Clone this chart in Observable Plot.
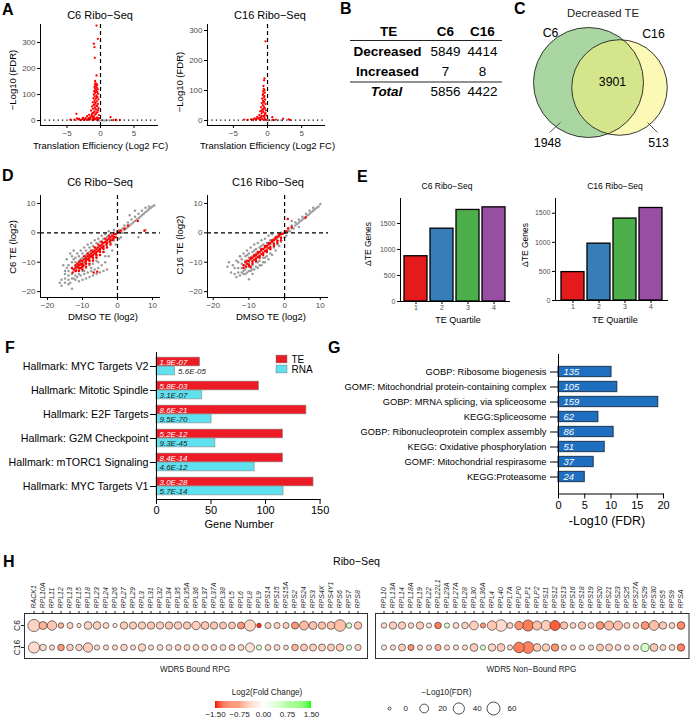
<!DOCTYPE html>
<html><head><meta charset="utf-8">
<script src="https://cdn.jsdelivr.net/npm/d3@7"></script>
<script src="https://cdn.jsdelivr.net/npm/@observablehq/plot@0.6"></script>
<style>
body{margin:0;background:#fff;}
#root{position:relative;width:690px;height:719px;overflow:hidden;font-family:"Liberation Sans",Arial,sans-serif;color:#000;background:#fff;}
.t{position:absolute;white-space:nowrap;line-height:1;}
</style></head><body><div id="root"></div>
<script>
// ---------------- DATA ----------------
// A: volcano plots [log2FC, -log10 FDR]
const volcC6Red = [[-0.6,365],[-0.4,314],[-1.0,295],[-0.9,282],[-0.85,241],[-0.6,173],[-0.8,152],
[-0.75,144],[-0.6,141],[-0.85,138],[-0.5,136],[-0.7,132],[-0.9,128],[-0.55,126],[-0.8,122],[-0.4,120],
[-0.65,117],[-0.95,113],[-0.5,110],[-0.8,106],[-0.35,103],[-1.0,100],[-0.6,97],[-0.85,93],[-0.45,90],[-1.05,86],[-0.7,84],[-0.3,81],
[-0.9,77],[-0.55,74],[-1.15,70],[-0.75,67],[-0.4,64],[-1.0,61],[-0.6,57],[-1.25,54],[-0.85,51],[-0.3,48],[-1.1,45],[-0.65,42],
[-1.4,38],[-0.9,35],[-0.45,32],[-1.2,28],[-0.7,25],[-1.7,22],[-0.25,21],[-2.0,17],[-1.4,15],[-1.0,13],[-0.5,12],[-2.6,10],[-1.8,9],[-0.2,9],
[-3.2,6],[-2.3,5],[-1.5,5],[-0.8,5],[-3.9,3],[-2.9,2],[-2.0,2],[-1.2,2],[-0.5,2],[-4.5,3],[-3.5,8],[-3.6,26],[1.5,13],[2.3,3],[2.9,2],[1.9,2],
[-0.7,110],[-0.55,90],[-0.9,60],[-0.75,45],[-0.6,30],[-1.3,18],[-0.9,20],[-0.35,40],[-1.1,8],[-0.6,7],
[-2.7,7],[-2.2,9],[-1.6,11],[-1.2,14],[-3.3,4],[-2.5,3],[-1.8,5],[-1.0,4],[-0.4,5],[-0.9,10],[-1.6,7],[-1.3,24],[-1.0,30],[-0.8,70],[-0.5,55]];
const volcC6Gray = [[0.2,1],[0.5,0.6],[0.9,1],[1.3,0.5],[0.1,0.3],[-0.2,0.5],[0.7,0.2],[1.7,0.8],[2.4,0.4],[-0.4,1]];
const volcC16Red = [[-0.3,264],[-0.45,140],[-0.5,134],[-0.6,115],
[-0.55,105],[-0.45,101],[-0.65,97],[-0.4,93],[-0.6,89],[-0.7,85],[-0.45,81],[-0.55,77],[-0.8,73],[-0.35,70],[-0.65,66],[-0.5,62],
[-0.85,58],[-0.3,55],[-0.7,51],[-0.55,47],[-0.95,44],[-0.4,41],[-0.75,37],[-0.25,34],[-1.05,31],[-0.6,28],[-0.85,24],[-0.4,21],
[-1.2,18],[-0.15,16],[-0.7,14],[-1.5,12],[-1.0,10],[-0.45,9],[-1.9,7],[-1.3,6],[-0.8,5],[-0.3,4],[-2.4,4],[-1.7,3],[-1.1,2],[-0.6,2],
[-2.9,2],[-2.1,1.5],[-3.4,3],[-0.1,1.5],[0.7,11],[2.3,6],[3.1,4],[1.2,3],[0.8,2],[3.3,2],
[-0.6,60],[-0.5,40],[-0.9,30],[-0.3,25],[-1.2,9],[-0.5,15],[-1.6,6],[-2.1,4],[-0.9,15],[-0.7,35]];
const volcC16Gray = [[0.3,1],[0.6,0.5],[1.0,0.8],[1.5,0.4],[0.1,0.2],[2.0,0.6]];

// B: table
const tableCols = ["TE","C6","C16"];
const tableRows = ["Decreased","Increased","Total"];
const tableC6 = [5849, 7, 5856];
const tableC16 = [4414, 8, 4422];

// C: Venn
const vennSets = ["C6","C16"];
const vennTotals = [5849, 4414];
const vennOnly = [1948, 513];
const vennBoth = 3901;

// D: TE scatter [DMSO TE, treated TE]
const dC6Gray = [[-16,-16],[-16,-18],[-15,-13],[-15,-15.5],[-15,-17],[-14,-11],[-14,-13],[-14,-14.5],[-14,-16],[-13.5,-7],[-13,-19],
[-13,-10],[-13,-12],[-13,-14],[-13,-15.5],[-12,-8.5],[-12,-10],[-12,-11.5],[-12,-13],[-12,-14.5],[-11,-8],[-11,-9.5],[-11,-11],[-11,-12.5],[-11,-14],[-11,-16.5],
[-10,-7],[-10,-8.5],[-10,-10],[-10,-11.5],[-10,-13],[-10,-16],[-9,-6],[-9,-7.5],[-9,-9],[-9,-10.5],[-9,-12],[-9,-15.5],
[-8,-5],[-8,-6.5],[-8,-8],[-8,-9.5],[-8,-11],[-8,-15],[-7,-4.5],[-7,-6],[-7,-7.5],[-7,-9],[-7,-10.5],[-7,-14.5],
[-6,-3.5],[-6,-5],[-6,-6.5],[-6,-8],[-6,-9.5],[-6,-14],[-5,-3],[-5,-4.5],[-5,-6],[-5,-7.5],[-5,-13.5],[-4,-2],[-4,-3.5],[-4,-5],[-4,-6.5],[-4,-13],
[-3,-1.5],[-3,-3],[-3,-4.5],[-3,-12.5],[-2,-0.5],[-2,-2],[-2,-3.5],[-1,0],[-1,-1.5],[-1,-2.5],
[0,0.5],[0.5,1],[1,0],[1.5,1.5],[2,2.5],[2,1],[3,2],[3,3.5],[4,3],[4,4.5],[5,4],[5,5.5],[6,5],[6,6.5],[7,6],[7,7.5],[8,7],[8,8.5],[9,8],[9,9],[10,9],[10.5,9.3],
[5,7.5],[3.5,6],[6,-1.5],[8,1],[1,-1.5],[-1,1],[-12.5,-9],[-10.5,-9],[-8.5,-7],[-6.5,-5],[-4.5,-3],[-9.5,-13],[-7.5,-12],[-5.5,-10],[-3.5,-8],[-12,-16],[-14.5,-12],
[-15.5,-11],[-14.5,-9],[-13,-8],[-12.5,-6],[-11.5,-7],[-10.5,-6],[-9.5,-5],[-8.5,-4],[-7.5,-3.5],[-6.5,-2.5],[-5.5,-2],[-4.5,-1],[-3.5,-0.5],[-2.5,0.5],
[-13.5,-17],[-12.5,-15.5],[-11.5,-15],[-10.5,-14.5],[-9.5,-14],[-8.5,-13.5],[-7.5,-13],[-6.5,-12.5],[-5.5,-12],[-4.5,-11],[-3.5,-10],[-2.5,-8],[-1.5,-6],[-0.5,-4],
[0.5,-2],[1.5,0],[2.5,1.5],[3.5,2.5],[4.5,3.5],[5.5,4.5],[6.5,5.5],[7.5,6.5],[8.5,7.5],[9.5,8.5],[-14,-17.5],[-15,-14],[-16.5,-17]];
const dC6Red = [[-12.5,-12.5],[-12,-11],[-12,-12],[-11.5,-11.5],[-11,-10],[-11,-11],[-11,-12],[-10.5,-10.5],[-10,-9.5],[-10,-10.5],[-10,-11.5],
[-9.5,-9],[-9,-8.5],[-9,-9.5],[-9,-10.5],[-8.5,-8],[-8,-7.5],[-8,-8.5],[-8,-9.5],[-7.5,-7],[-7,-6.5],[-7,-7.5],[-7,-8.5],[-6.5,-6],
[-6,-5.5],[-6,-6.5],[-6,-7.5],[-5.5,-5],[-5,-4.5],[-5,-5.5],[-5,-6.5],[-4.5,-4],[-4,-3.5],[-4,-4.5],[-4,-5.5],[-3.5,-3],[-3,-2.5],[-3,-3.5],
[-2.5,-2],[-2,-1.5],[-2,-2.5],[-1.5,-1],[-1,-0.5],[-1,-1.5],[-0.5,-0.5],[0,0],[0.5,0.3],[1,0.8],[2,1.5],[3,2.5],[5.8,4],[7.7,0.7],
[-12.8,-13.5],[-6.8,-13.5],[-5.8,-13.2],[-13,-12],[-11.8,-12.8],[-9.7,-11],[-10.5,-12],[-8.5,-9],[-7.5,-8],[-6.5,-7],[-5.5,-6],[-4.5,-5],
[-12,-13],[-11.5,-10.5],[-11,-13],[-10.5,-9.5],[-10,-12.5],[-9.5,-8],[-9,-11.5],[-8.5,-7],[-8,-10.5],[-7.5,-6],[-7,-9.5],[-6.5,-5],[-6,-8.5],
[-5.5,-4],[-5,-7.5],[-4.5,-3],[-4,-6.5],[-3.5,-2],[-3,-5],[-2.5,-1],[-2,-4],[-1.5,-2.5],[-0.5,-1.5],[-11.2,-11.8],[-10.2,-11],[-9.2,-10],
[-8.2,-9],[-7.2,-8],[-6.2,-7],[-5.2,-6],[-4.2,-5],[-3.2,-4],[-2.2,-3],[-1.2,-2]];
const dC16Gray = [[-15.6,-10],[-15,-13.5],[-14,-12],[-14,-14],[-13,-10],[-13,-12],[-13,-13.5],[-12,-9],[-12,-10.5],[-12,-12],[-12,-13.5],
[-11,-8],[-11,-9.5],[-11,-11],[-11,-12.5],[-11,-14],[-10,-7],[-10,-8.5],[-10,-10],[-10,-11.5],[-10,-13],[-10,-15.8],
[-9,-6.5],[-9,-8],[-9,-9.5],[-9,-11],[-9,-12.5],[-8,-5.5],[-8,-7],[-8,-8.5],[-8,-10],[-8,-11.5],[-7,-5],[-7,-6.5],[-7,-8],[-7,-9.5],[-7,-11],
[-6,-4],[-6,-5.5],[-6,-7],[-6,-8.5],[-5,-3.5],[-5,-5],[-5,-6.5],[-5,-8],[-4,-2.5],[-4,-4],[-4,-5.5],[-4,-7],[-3,-2],[-3,-3.5],[-3,-5],
[-2,-1],[-2,-2.5],[-2,-4],[-1,0],[-1,-1.5],[-1,-3],[0,0.5],[0,-1.5],[1,0.5],[1,1.5],[2,1.5],[2,2.5],[3,2.5],[3,3.5],[4,3.5],[4,4.5],
[5,4.5],[5,5.5],[6,5.5],[6,6.5],[7,6.5],[7,7.5],[8,7.5],[8,8.5],[9,8.5],[10,9.8],[-16,-11.5],[-13.5,-15],[-9,-14],[-6,-10],[2,4],[4,2],
[-12.5,-8],[-10.5,-7.5],[-8.5,-6],[-6.5,-4.5],[-11.5,-13],[-9.5,-12],[-7.5,-10],[-5.5,-8.5],
[-14.5,-11],[-13.5,-9.5],[-12.5,-8],[-11.5,-7],[-10.5,-6],[-9.5,-5],[-8.5,-4],[-7.5,-3.5],[-6.5,-2.5],[-5.5,-2],[-4.5,-1],[-3.5,-0.5],
[-12.5,-14.5],[-11.5,-14],[-10.5,-13.5],[-9.5,-13],[-8.5,-12.5],[-7.5,-12],[-6.5,-11],[-5.5,-10],[-4.5,-9],[-3.5,-7.5],[-2.5,-6],[-1.5,-4.5],
[0.5,-1],[1.5,0.5],[2.5,1.5],[3.5,3],[4.5,4],[5.5,5],[6.5,6],[7.5,7],[8.5,8],[9.5,9]];
const dC16Red = [[-11,-10],[-10.5,-10.5],[-10,-9.5],[-10,-10.8],[-9.5,-9],[-9,-8.5],[-9,-9.8],[-8.5,-8],[-8,-7.5],[-8,-8.8],[-7.5,-7],
[-7,-6.5],[-7,-7.8],[-6.5,-6],[-6,-5.5],[-6,-6.8],[-5.5,-5],[-5,-4.5],[-5,-5.8],[-4.5,-4],[-4,-3.5],[-4,-4.8],[-3.5,-3],[-3,-2.5],[-3,-3.8],
[-2.5,-2],[-2,-1.5],[-2,-2.8],[-1.5,-1],[-1,-0.5],[-1,-1.8],[-0.5,-0.3],[0,0],[0.5,0.5],[1,1.5],[2,2],[0.9,4.7],[5.9,5.2],[-9.5,-11.5],[-11.5,-11],
[-8.5,-9.2],[-7.5,-8.2],[-6.5,-7.2],[-5.5,-6.2],[-4.5,-5.2],
[-10.5,-9.5],[-10,-11.2],[-9.5,-8.5],[-9,-10.5],[-8.5,-7.5],[-8,-9.5],[-7.5,-6.5],[-7,-8.5],[-6.5,-5.5],[-6,-7.5],[-5.5,-4.5],[-5,-6.5],
[-4.5,-3.5],[-4,-5.5],[-3.5,-2.5],[-3,-4.5],[-2.5,-1.5],[-2,-3.5],[-1.5,-0.5],[-1,-2.5],[-11.5,-12],[-10.8,-11.5]];

// E: ΔTE genes per quartile
const eQuartiles = [1,2,3,4];
const eC6 = [870, 1400, 1760, 1810];
const eC16 = [488, 977, 1408, 1590];
const eColors = ["#e41a1c","#377eb8","#4daf4a","#984ea3"];

// F: Hallmark gene numbers
const fCats = ["Hallmark: MYC Targets V2","Hallmark: Mitotic Spindle","Hallmark: E2F Targets","Hallmark: G2M Checkpoint","Hallmark: mTORC1 Signaling","Hallmark: MYC Targets V1"];
const fTE = [40, 94, 137.5, 116, 116, 144];
const fRNA = [17, 42, 50.5, 54, 90, 116.5];
const fTElab = ["1.9E-07","5.8E-03","8.6E-21","5.2E-12","8.4E-14","3.0E-28"];
const fRNAlab = ["5.6E-05","3.1E-07","9.5E-70","9.3E-45","4.6E-12","5.7E-14"];
const fTypes = ["TE","RNA"];

// G: enrichment
const gCats = ["GOBP: Ribosome biogenesis","GOMF: Mitochondrial protein-containing complex","GOBP: MRNA splicing, via spliceosome","KEGG:Spliceosome","GOBP: Ribonucleoprotein complex assembly","KEGG: Oxidative phosphorylation","GOMF: Mitochondrial respirasome","KEGG:Proteasome"];
const gFDR = [10.1, 11.2, 19.0, 7.6, 10.5, 8.8, 6.7, 5.0];
const gCount = [135, 105, 159, 62, 86, 51, 37, 24];

// H: ribosomal protein genes
const hRows = ["C6","C16"];
const genesBound = ["RACK1","RPL10A","RPL11","RPL12","RPL13","RPL15","RPL18","RPL23","RPL24","RPL26","RPL27","RPL29","RPL3","RPL31","RPL32","RPL34","RPL35","RPL35A","RPL36","RPL37","RPL37A","RPL38","RPL5","RPL6","RPL8","RPL9","RPS14","RPS15","RPS15A","RPS2","RPS24","RPS3","RPS4X","RPS4Y1","RPS6","RPS7","RPS8"];
const boundC6FC  = [-0.35,-0.6,-0.45,-0.6,-0.35,-0.25,-0.35,-0.4,-0.3,-0.2,-0.4,-0.4,-0.4,-0.45,-0.4,-0.45,-0.4,-0.45,-0.4,-0.45,-0.45,-0.45,-0.45,-0.8,-0.35,-1.4,-0.35,-0.35,-0.4,-0.8,-0.55,-0.5,-0.5,-0.5,-0.5,0.4,-0.45];
const boundC6FDR = [50,15,25,4,6,1,14,14,5,1,12,11,12,12,12,12,13,12,18,14,12,10,10,10,40,1.5,6,6,6,10,22,15,12,14,45,4,12];
const boundC16FC  = [-0.3,-0.3,-0.3,-0.8,-0.4,-0.35,-0.4,-0.3,-0.3,-0.3,-0.35,-0.3,-0.35,-0.3,-0.3,-0.3,-0.35,-0.3,-0.3,-0.3,-0.3,-0.3,-0.35,-0.3,-0.25,0.35,-0.3,-0.3,-0.3,-0.6,-0.45,-0.4,-0.4,-0.4,-0.4,0.35,-0.35];
const boundC16FDR = [40,8,3,8,8,8,25,3,3,3,8,3,12,3,5,5,5,5,5,5,5,5,5,5,22,3,5,5,2,8,10,10,10,10,12,3,6];
const genesNonBound = ["RPL10","RPL13A","RPL14","RPL18A","RPL19","RPL22","RPL22L1","RPL23A","RPL27A","RPL28","RPL30","RPL36A","RPL4","RPL40","RPL7A","RPLP0","RPLP1","RPLP2","RPS11","RPS12","RPS13","RPS16","RPS18","RPS19","RPS20","RPS21","RPS23","RPS25","RPS27A","RPS29","RPS30","RPS5","RPS9","RPSA"];
const nonC6FC  = [-0.3,-0.4,-0.4,-0.35,-0.4,-0.25,-1.0,0.35,-0.3,-0.35,-0.4,-0.8,-0.45,-0.3,-0.35,-0.85,-1.0,-0.5,-0.4,-1.2,-0.5,-0.35,-0.45,-0.3,-0.8,-0.55,-0.5,-0.35,-0.35,-0.8,-0.5,-0.45,-0.35,-0.9];
const nonC6FDR = [4,12,12,4,12,3,8,3,5,8,20,3,25,45,5,18,40,22,30,30,12,5,12,5,14,22,22,5,5,14,28,12,5,14];
const nonC16FC  = [-0.2,-0.3,-0.4,-0.85,-0.3,-0.3,-0.6,-0.3,-0.3,-0.3,-0.4,0.35,-0.35,-0.4,-0.3,-1.0,-0.95,-0.45,-0.4,-0.85,-0.3,-0.3,-0.25,-0.3,-0.45,-0.4,-0.3,-0.3,-0.3,0.45,-0.45,-0.3,-0.3,-0.95];
const nonC16FDR = [3,3,10,6,3,3,6,3,3,3,14,3,12,14,3,35,45,14,12,12,3,3,3,3,10,10,5,3,3,16,14,5,5,12];
const sizeLegend = [0,20,40,60];
const fcLegendTicks = [-1.5,-0.75,0,0.75,1.5];

// ---------------- HELPERS ----------------
const root = document.getElementById("root");
const FONT = "Liberation Sans, Arial, sans-serif";
const AX = "#4d4d4d";
function put(el, left, top){ el.style.position="absolute"; el.style.left=left+"px"; el.style.top=top+"px"; root.appendChild(el); }
function txt(s, x, y, o={}){
  const {size=10, weight="normal", style="normal", rotate=0, anchor="middle", color="#000"} = o;
  const d=document.createElement("div"); d.className="t"; d.textContent=s;
  d.style.fontSize=size+"px"; d.style.fontWeight=weight; d.style.fontStyle=style; d.style.color=color;
  d.style.left=x+"px"; d.style.top=y+"px";
  const tx = anchor==="middle"?"-50%":anchor==="end"?"-100%":"0";
  d.style.transform=`translate(${tx},-50%) rotate(${rotate}deg)`;
  root.appendChild(d);
}
function plotAt(fl, ft, fw, fh, m, opts){
  const [mt,mr,mb,ml] = m;
  const svg = Plot.plot({...opts, width: ml+fw+mr, height: mt+fh+mb, marginTop:mt, marginRight:mr, marginBottom:mb, marginLeft:ml,
    style:{fontFamily:FONT, fontSize:"9px", background:"transparent", overflow:"visible"}});
  put(svg, fl-ml, ft-mt);
  return svg;
}
const pairX = d=>d[0], pairY = d=>d[1];
const plain = d=>String(d).replace("-","−");

// ---------------- A: volcano ----------------
function volcano(red, gray, fl, fw, xdom, ydom, yticks){
  plotAt(fl, 24, fw, 101, [4,4,16,30], {
    x:{domain:xdom, axis:null}, y:{domain:ydom, axis:null},
    marks:[
      Plot.dot(gray,{x:pairX,y:pairY,r:1.1,fill:"#9a9a9a"}),
      Plot.dot(red,{x:pairX,y:pairY,r:1.15,fill:"#ff0000"}),
      Plot.ruleY([1.3],{stroke:"#000",strokeDasharray:"1.2,3.2",strokeWidth:1.3}),
      Plot.ruleX([0],{stroke:"#000",strokeDasharray:"4,3",strokeWidth:1.2}),
      Plot.ruleX([xdom[0]],{stroke:"#000"}), Plot.ruleY([ydom[0]],{stroke:"#000"}),
      Plot.axisX({ticks:[-5,0,5], tickFormat:plain, tickSize:3, tickPadding:2, fontSize:8, color:AX, stroke:"#000", label:null}),
      Plot.axisY({ticks:yticks, tickFormat:plain, tickSize:3, tickPadding:2, fontSize:8, color:AX, stroke:"#000", label:null})
    ]});
}
volcano(volcC6Red, volcC6Gray, 40, 118, [-8.96,8.66], [-19,369], [0,100,200,300]);
volcano(volcC16Red, volcC16Gray, 207, 118, [-8.8,8.5], [-16.7,320], [0,100,200,300]);

// ---------------- B: table ----------------
plotAt(350, 19.6, 152, 82.8, [0,0,0,0], {
  x:{type:"point", domain:tableCols, padding:1.05, align:0.744, axis:null},
  y:{type:"point", domain:["TE", ...tableRows], padding:0.5, axis:null},
  marks:[
    Plot.ruleY(["TE"],{dy:9, stroke:"#222", strokeWidth:1}),
    Plot.ruleY(["Increased"],{dy:10.5, stroke:"#222", strokeWidth:1}),
    Plot.text(["TE"],{x:d=>d, y:()=>"TE", text:d=>d, dx:-20, fontWeight:"bold", fontSize:13.5}),
    Plot.text(["C6","C16"],{x:d=>d, y:()=>"TE", text:d=>d, fontWeight:"bold", fontSize:13.5}),
    Plot.text(tableRows.slice(0,2),{x:()=>"TE", y:d=>d, text:d=>d, dx:-21, fontWeight:"bold", fontSize:13.5}),
    Plot.text(tableRows.slice(2),{x:()=>"TE", y:d=>d, text:d=>d, dx:-22, fontWeight:"bold", fontStyle:"italic", fontSize:13.5}),
    Plot.text(tableRows,{x:()=>"C6", y:d=>d, text:(d,i)=>String(tableC6[i]), fontSize:13.5}),
    Plot.text(tableRows,{x:()=>"C16", y:d=>d, text:(d,i)=>String(tableC16[i]), fontSize:13.5})
  ]});

// ---------------- C: Venn ----------------
const vennCircles = vennSets.map((s,i)=>({set:s, total:vennTotals[i], cx:[0,31][i], cy:[0,-5][i]}));
const vennLabels = [
  {t:vennSets[0], x:-38, y:49},{t:vennSets[1], x:65, y:48},
  {t:String(vennBoth), x:24, y:0},{t:String(vennOnly[0]), x:-41, y:-61},{t:String(vennOnly[1]), x:70, y:-61}];
const vennLeaders = [{x1:-28,y1:-40,x2:-39,y2:-50},{x1:59,y1:-40,x2:69,y2:-50}];
plotAt(528, 18, 162, 132, [0,0,0,0], {
  x:{domain:[-60,102], axis:null}, y:{domain:[-68,64], axis:null},
  r:{type:"sqrt", domain:[0,5849], range:[0,55]},
  marks:[
    Plot.dot(vennCircles.slice(0,1),{x:"cx",y:"cy",r:"total",fill:"#a9d6a0",stroke:null}),
    Plot.dot(vennCircles.slice(1),{x:"cx",y:"cy",r:"total",fill:"#faf27a",fillOpacity:0.55,stroke:null}),
    Plot.dot(vennCircles,{x:"cx",y:"cy",r:"total",fill:"none",stroke:"#222",strokeWidth:0.9}),
    Plot.link(vennLeaders,{x1:"x1",y1:"y1",x2:"x2",y2:"y2",stroke:"#333",strokeWidth:0.8}),
    Plot.text(vennLabels,{x:"x",y:"y",text:"t",fontSize:12.3})
  ]});

// ---------------- D: scatter ----------------
function scatterD(gray, red, fl, fw, xdom){
  plotAt(fl, 195, fw, 102, [4,4,16,30], {
    x:{domain:xdom, axis:null}, y:{domain:[-22,12.7], axis:null},
    marks:[
      Plot.dot(gray,{x:pairX,y:pairY,r:1.25,fill:"#9a9a9a"}),
      Plot.dot(red,{x:pairX,y:pairY,r:1.25,fill:"#ff0000"}),
      Plot.ruleX([0],{stroke:"#000",strokeDasharray:"4,3",strokeWidth:1.2}),
      Plot.ruleY([0],{stroke:"#000",strokeDasharray:"4,3",strokeWidth:1.2}),
      Plot.ruleX([xdom[0]],{stroke:"#000"}), Plot.ruleY([-22],{stroke:"#000"}),
      Plot.axisX({ticks:[-20,-10,0,10], tickSize:3, tickPadding:2, fontSize:8, color:AX, stroke:"#000", label:null}),
      Plot.axisY({ticks:[-20,-10,0,10], tickSize:3, tickPadding:2, fontSize:8, color:AX, stroke:"#000", label:null})
    ]});
}
scatterD(dC6Gray, dC6Red, 40, 120, [-22,12.3]);
scatterD(dC16Gray, dC16Red, 207, 121, [-21.6,12.3]);

// ---------------- E: bars ----------------
function barsE(vals, fl, fw, fb, yTop, po){
  const data = eQuartiles.map((q,i)=>({q, v:vals[i]}));
  plotAt(fl, 198, fw, fb-198, [4,4,14,26], {
    x:{type:"band", domain:eQuartiles, paddingInner:0.1, paddingOuter:po, axis:null},
    y:{domain:[0,yTop], axis:null},
    color:{type:"ordinal", domain:eQuartiles, range:eColors},
    marks:[
      Plot.barY(data,{x:"q", y:"v", fill:"q", stroke:"#000", strokeWidth:1.3}),
      Plot.ruleY([0],{stroke:"#000"}), Plot.frame({anchor:"left", stroke:"#000"}),
      Plot.axisX({tickSize:3, tickPadding:1, fontSize:7, color:AX, stroke:"#000", label:null}),
      Plot.axisY({ticks:[0,500,1000,1500], tickFormat:d=>String(d), tickSize:3, tickPadding:2, fontSize:7, color:AX, stroke:"#000", label:null})
    ]});
}
barsE(eC6, 400, 110, 301, 1980, 0.165);
barsE(eC16, 555, 113, 300, 1753, 0.2);

// ---------------- F: grouped horizontal bars ----------------
const TE_RED = "#ed1c24", RNA_CYAN = "#5fe0ee";
const fRows = fCats.map((c,i)=>({cat:c, te:fTE[i], rna:fRNA[i], tel:fTElab[i], rnal:fRNAlab[i]}));
plotAt(155.7, 352, 163.6, 147, [4,10,30,152], {
  x:{domain:[0,150], axis:null},
  y:{type:"band", domain:fCats, paddingInner:0, paddingOuter:0.037, axis:null},
  marks:[
    Plot.barX(fRows,{y:"cat", x:"te", fill:TE_RED, stroke:"#8a8a8a", strokeWidth:0.6, insetTop:3.1, insetBottom:12.1}),
    Plot.barX(fRows,{y:"cat", x:"rna", fill:RNA_CYAN, stroke:"#8a8a8a", strokeWidth:0.6, insetTop:12.1, insetBottom:3.1}),
    Plot.text(fRows,{y:"cat", x:0, text:"tel", dx:3, dy:-4.4, textAnchor:"start", fill:"#fff", fontStyle:"italic", fontSize:8}),
    Plot.text(fRows,{y:"cat", x:d=>d.rna<25?d.rna:0, text:"rnal", dx:3, dy:4.6, textAnchor:"start", fill:"#222", fontStyle:"italic", fontSize:8}),
    Plot.frame({anchor:"left", stroke:"#000"}), Plot.frame({anchor:"bottom", stroke:"#000"}),
    Plot.axisX({ticks:[0,50,100,150], tickSize:5, tickPadding:2, fontSize:11, color:"#000", label:null}),
    Plot.axisY({tickSize:6, tickPadding:2, fontSize:10.7, color:"#000", label:null})
  ]});
// F legend
plotAt(276, 352.5, 11, 21, [0,30,0,0], {
  x:{domain:[0,1], axis:null}, y:{type:"band", domain:fTypes, padding:0, axis:null},
  color:{type:"ordinal", domain:fTypes, range:[TE_RED, RNA_CYAN]},
  marks:[
    Plot.barX(fTypes,{x1:0, x2:1, y:d=>d, fill:d=>d, stroke:"#777", strokeWidth:0.5, insetTop:1.1, insetBottom:1.1}),
    Plot.text(fTypes,{x:1, y:d=>d, text:d=>d, dx:4, textAnchor:"start", fontSize:10})
  ]});

// ---------------- G: enrichment bars ----------------
const gRows = gCats.map((c,i)=>({cat:c, v:gFDR[i], n:String(gCount[i])}));
plotAt(558, 353.5, 105, 139.5, [4,10,30,220], {
  x:{domain:[0,20], axis:null},
  y:{type:"band", domain:gCats, paddingInner:0, paddingOuter:0.44, axis:null},
  marks:[
    Plot.barX(gRows,{y:"cat", x:"v", fill:"#1f6fc0", stroke:"#1d3550", strokeWidth:1, insetTop:2.35, insetBottom:2.35}),
    Plot.text(gRows,{y:"cat", x:0, text:"n", dx:5, textAnchor:"start", fill:"#fff", fontStyle:"italic", fontSize:9.5}),
    Plot.frame({anchor:"left", stroke:"#000"}), Plot.frame({anchor:"bottom", stroke:"#000"}),
    Plot.axisX({ticks:[0,5,10,15,20], tickSize:5, tickPadding:2, fontSize:11, color:"#000", label:null}),
    Plot.axisY({tickSize:8, tickPadding:4, fontSize:9.3, color:"#000", label:null})
  ]});

// ---------------- H: dot matrix ----------------
const hColor = {type:"linear", domain:[-1.5,0,1.5], range:["#ff0000","#ffffff","#00ff00"], interpolate:"lab"};
const hR = {type:"sqrt", domain:[0,60], range:[1.5,6.5]};
function hPlot(genes, c6fc, c6fdr, c16fc, c16fdr, fl, fw, po, showY){
  const data = [];
  genes.forEach((g,i)=>{ data.push({gene:g,row:"C6",fc:c6fc[i],fdr:c6fdr[i]}); data.push({gene:g,row:"C16",fc:c16fc[i],fdr:c16fdr[i]}); });
  plotAt(fl, 613, fw, 45, [40,2,4,22], {
    x:{type:"band", domain:genes, paddingInner:0, paddingOuter:po, axis:null},
    y:{type:"band", domain:hRows, paddingInner:0, paddingOuter:0.02, axis:null},
    r:hR, color:hColor,
    marks:[
      Plot.frame({stroke:"#333", strokeWidth:1}),
      Plot.dot(data,{x:"gene", y:"row", r:"fdr", fill:"fc", stroke:"#222", strokeWidth:0.6}),
      Plot.axisX({anchor:"top", tickRotate:-90, tickSize:3, tickPadding:2, fontSize:7, fontStyle:"italic", color:"#222", label:null}),
      showY ? Plot.axisY({tickRotate:-90, tickSize:3, tickPadding:2, fontSize:8.5, color:"#222", label:null}) : null
    ]});
}
hPlot(genesBound, boundC6FC, boundC6FDR, boundC16FC, boundC16FDR, 24, 343, 0.07, true);
hPlot(genesNonBound, nonC6FC, nonC6FDR, nonC16FC, nonC16FDR, 374.5, 313.5, 0, false);

// color legend: colour bar sampled in small steps of the fold-change axis
const rampSteps = d3.range(-1.5, 1.5, 0.03);
plotAt(215, 701, 96, 7, [0,14,12,14], {
  x:{domain:[-1.5,1.5], axis:null}, y:{domain:[0,1], axis:null},
  color:hColor,
  marks:[
    Plot.rect(rampSteps,{x1:d=>d, x2:d=>d+0.031, y1:0, y2:1, fill:d=>d+0.015}),
    Plot.axisX({ticks:fcLegendTicks, tickFormat:d=>d3.format(".2f")(d), tickSize:0, tickPadding:3, fontSize:8, color:"#222", label:null})
  ]});
// size legend
plotAt(389, 700, 104, 16, [0,30,0,10], {
  x:{domain:[0,60], axis:null}, r:hR,
  marks:[
    Plot.dot(sizeLegend,{x:d=>d, r:d=>d, fill:"#fff", stroke:"#222", strokeWidth:0.8}),
    Plot.text(sizeLegend,{x:d=>d, text:d=>String(d), dx:14, textAnchor:"start", fontSize:8, fill:"#222"})
  ]});

// ---------------- TEXT ----------------
const L = {size:16, weight:"bold", anchor:"start"};
txt("A",2,10,L); txt("B",340,9,L); txt("C",514,9,L); txt("D",2,176,L);
txt("E",357,176.5,L); txt("F",5,347.5,L); txt("G",328,348,L); txt("H",3,561.5,L);

txt("C6 Ribo−Seq",100,15,{size:11}); txt("C16 Ribo−Seq",270,15,{size:11});
txt("−Log10 (FDR)",13,80,{size:9.5,rotate:-90}); txt("−Log10 (FDR)",180,82,{size:9.5,rotate:-90});
txt("Translation Efficiency (Log2 FC)",100.5,146,{size:9.5}); txt("Translation Efficiency (Log2 FC)",267.5,146,{size:9.5});
txt("Decreased TE",603,14,{size:11.3,color:"#222"});

txt("C6 Ribo−Seq",100,182,{size:11}); txt("C16 Ribo−Seq",268,182,{size:11});
txt("C6 TE (log2)",13,247,{size:9.5,rotate:-90}); txt("C16 TE (log2)",180,245,{size:9.5,rotate:-90});
txt("DMSO TE (log2)",103,317,{size:9.5}); txt("DMSO TE (log2)",271,317,{size:9.5});

txt("C6 Ribo−Seq",447,186,{size:8.5}); txt("C16 Ribo−Seq",615,186,{size:8.5});
txt("ΔTE Genes",368,244,{size:8.5,rotate:-90}); txt("ΔTE Genes",525,245,{size:8.5,rotate:-90});
txt("TE Quartile",458,320,{size:9}); txt("TE Quartile",615,320,{size:9});

txt("Gene Number",239,523.5,{size:11});
txt("-Log10 (FDR)",607,521,{size:12.5});

txt("Ribo−Seq",356.5,561,{size:10.6});
txt("WDR5 Bound RPG",195,669.5,{size:8.2,color:"#222"});
txt("WDR5 Non−Bound RPG",531.5,669.5,{size:8.2,color:"#222"});
txt("Log2(Fold Change)",267,692.5,{size:8.2,color:"#222"});
txt("−Log10(FDR)",446.5,692.5,{size:8.2,color:"#222"});
</script></body></html>
